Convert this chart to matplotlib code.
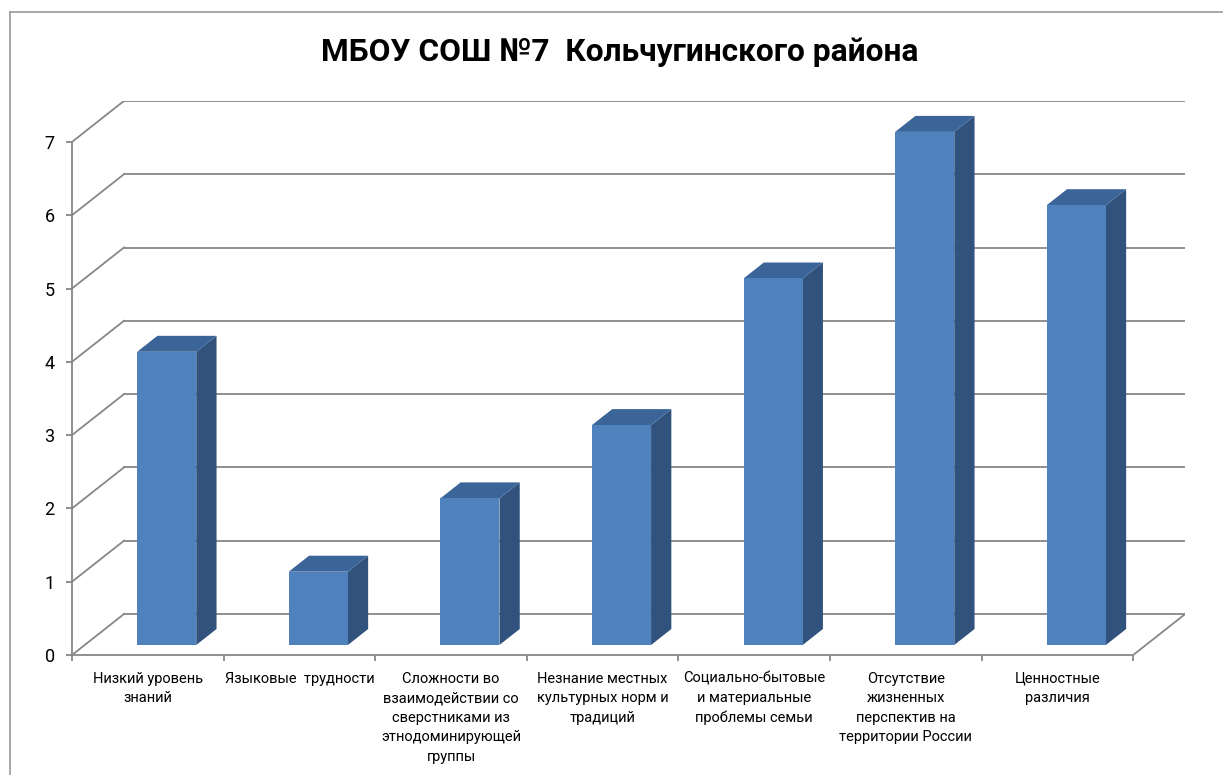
import matplotlib
matplotlib.use("Agg")
import matplotlib.pyplot as plt
from matplotlib.lines import Line2D
from matplotlib.patches import Polygon

title = "МБОУ СОШ №7  Кольчугинского района"
categories = [
    "Низкий уровень\nзнаний",
    "Языковые  трудности",
    "Сложности во\nвзаимодействии со\nсверстниками из\nэтнодоминирующей\nгруппы",
    "Незнание местных\nкультурных норм и\nтрадиций",
    "Социально-бытовые\nи материальные\nпроблемы семьи",
    "Отсутствие\nжизненных\nперспектив на\nтерритории России",
    "Ценностные\nразличия",
]
values = [4, 1, 2, 3, 5, 7, 6]
y_ticks = [0, 1, 2, 3, 4, 5, 6, 7]

plt.rcParams['font.family'] = ['Roboto', 'DejaVu Sans']

W, H = 1223, 775
CAT_PX = 151.6   # pixels per category
VAL_PX = 73.3    # pixels per unit of value
DX = 52 / CAT_PX  # depth of the floor, in data units
DY = 41 / VAL_PX
D0 = 0.244       # where the bars start in depth (fraction)
DL = 0.39        # bar depth (fraction)
BAR_OFF = 0.346
BAR_W = 0.39

GRID = '#878787'
FRONT = '#4f81bd'
SIDE = '#30527c'
TOP = '#3b6599'

n = len(categories)
ymax = max(y_ticks)

fig = plt.figure(figsize=(W / 100, H / 100), dpi=100)
ax = fig.add_axes([72 / W, (H - 655) / H, (n + DX) * CAT_PX / W, (ymax + DY) * VAL_PX / H])
ax.set_xlim(0, n + DX)
ax.set_ylim(0, ymax + DY)

# walls
for t in y_ticks:
    ax.plot([DX, n + DX], [t + DY, t + DY], color=GRID, lw=1.3, zorder=1)
    ax.plot([0, DX], [t, t + DY], color=GRID, lw=1.3, zorder=1)
ax.plot([n, n + DX], [0, DY], color=GRID, lw=1.3, zorder=1)

# bars
for i, v in enumerate(values):
    x0 = i + BAR_OFF + D0 * DX
    y0 = D0 * DY
    ddx, ddy = DL * DX, DL * DY
    front = [(x0, y0), (x0 + BAR_W, y0), (x0 + BAR_W, y0 + v), (x0, y0 + v)]
    top = [(x0, y0 + v), (x0 + BAR_W, y0 + v), (x0 + BAR_W + ddx, y0 + v + ddy), (x0 + ddx, y0 + v + ddy)]
    side = [(x0 + BAR_W, y0), (x0 + BAR_W + ddx, y0 + ddy), (x0 + BAR_W + ddx, y0 + v + ddy), (x0 + BAR_W, y0 + v)]
    ax.add_patch(Polygon(side, closed=True, facecolor=SIDE, edgecolor='none', zorder=3))
    ax.add_patch(Polygon(top, closed=True, facecolor=TOP, edgecolor='none', zorder=3))
    ax.add_patch(Polygon(front, closed=True, facecolor=FRONT, edgecolor='none', zorder=4))

for s in ['top', 'right']:
    ax.spines[s].set_visible(False)
for s in ['left', 'bottom']:
    ax.spines[s].set_color(GRID)
    ax.spines[s].set_linewidth(1.3)
ax.spines['left'].set_bounds(0, ymax)
ax.spines['bottom'].set_bounds(0, n)

ax.set_yticks(y_ticks)
ax.set_yticklabels([str(t) for t in y_ticks], fontsize=13)
ax.tick_params(axis='y', length=4.5, width=1.3, color=GRID, pad=8)

ax.set_xticks(range(n + 1))
ax.set_xticklabels([''] * (n + 1))
ax.set_xticks([i + 0.5 for i in range(n)], minor=True)
ax.set_xticklabels(categories, minor=True, fontsize=10.5)
ax.tick_params(axis='x', which='major', length=4.5, width=1.3, color=GRID)
ax.tick_params(axis='x', which='minor', length=0, pad=12)
for lab in ax.get_xticklabels(minor=True):
    lab.set_linespacing(1.5)

fig.text(620 / W, 1 - 52 / H, title, ha='center', va='center', fontsize=22.8, fontweight='bold')

# chart frame
fig.add_artist(Line2D([10 / W, 10 / W], [0, 1 - 12 / H], color='#9a9a9a', lw=1.2))
fig.add_artist(Line2D([10 / W, 1], [1 - 12 / H, 1 - 12 / H], color='#9a9a9a', lw=1.2))

fig.savefig('out.png', dpi=100)
